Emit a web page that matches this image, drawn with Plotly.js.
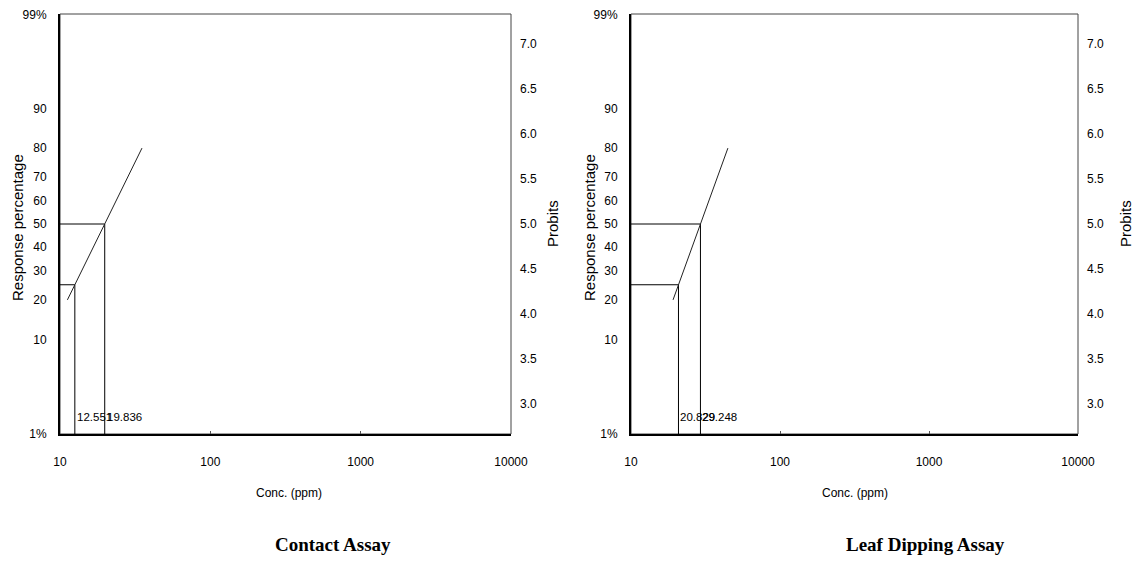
<!DOCTYPE html>
<html>
<head>
<meta charset="utf-8">
<script src="https://cdn.plot.ly/plotly-3.0.1.min.js"></script>
<style>html,body{margin:0;padding:0;background:#fff;}#chart{width:1134px;height:563px;}</style>
</head>
<body>
<div id="chart"></div>
<script>
// ---- data ----
// Percent tick labels on the probit scale (left axis) and their probit positions
var pctLabels = ["1%", "10", "20", "30", "40", "50", "60", "70", "80", "90", "99%"];
var pctProbits = [2.674, 3.718, 4.158, 4.476, 4.747, 5.0, 5.253, 5.524, 5.842, 6.282, 7.326];
// Probit tick labels (right axis)
var probitTicks = [3.0, 3.5, 4.0, 4.5, 5.0, 5.5, 6.0, 6.5, 7.0];
var probitTickText = ["3.0", "3.5", "4.0", "4.5", "5.0", "5.5", "6.0", "6.5", "7.0"];
// Concentration ticks
var concTicks = [10, 100, 1000, 10000];
var concTickText = ["10", "100", "1000", "10000"];

// Contact assay
var contactLineConc = [11.2, 35.1];
var contactLineProbit = [4.158, 5.842];
var contactLC = [12.551, 19.836];       // LC25, LC50
var contactLCLabels = ["12.551", "19.836"];
// Leaf dipping assay
var leafLineConc = [19.15, 44.7];
var leafLineProbit = [4.158, 5.842];
var leafLC = [20.829, 29.248];
var leafLCLabels = ["20.829", "29.248"];
// Probit levels of the LC lines (25%, 50%)
var lcProbits = [4.326, 5.0];

var captions = ["Contact Assay", "Leaf Dipping Assay"];

// ---- build ----
var yMin = 2.67, yMax = 7.33;
var tickFont = {family: "'Liberation Sans Narrow', 'Arial Narrow', Arial, sans-serif", size: 12, color: "#000"};
var lcFont = {family: "'Liberation Sans Narrow', 'Arial Narrow', Arial, sans-serif", size: 11.5, color: "#000"};
var titleFont = {family: "Arial, 'Liberation Sans', sans-serif", size: 15, color: "#000"};

function guideTraces(lc, xa, ya) {
  var tr = [];
  for (var i = 0; i < lc.length; i++) {
    tr.push({x: [10, lc[i]], y: [lcProbits[i], lcProbits[i]], xaxis: xa, yaxis: ya, mode: "lines",
             line: {color: "#000", width: 1}, hoverinfo: "skip", showlegend: false});
    tr.push({x: [lc[i], lc[i]], y: [lcProbits[i], yMin], xaxis: xa, yaxis: ya, mode: "lines",
             line: {color: "#000", width: 1}, hoverinfo: "skip", showlegend: false});
  }
  return tr;
}

var traces = [];
traces = traces.concat(guideTraces(contactLC, "x", "y"));
traces.push({x: contactLineConc, y: contactLineProbit, xaxis: "x", yaxis: "y2", mode: "lines",
             line: {color: "#222", width: 1}, showlegend: false, name: "Contact"});
traces = traces.concat(guideTraces(leafLC, "x2", "y3"));
traces.push({x: leafLineConc, y: leafLineProbit, xaxis: "x2", yaxis: "y4", mode: "lines",
             line: {color: "#222", width: 1}, showlegend: false, name: "Leaf dipping"});

function xAxis(domain, anchor) {
  return {type: "log", range: [1, 4], domain: domain, anchor: anchor,
    tickvals: concTicks, ticktext: concTickText, ticks: "inside", ticklen: 3, tickcolor: "#555",
    showgrid: false, zeroline: false, showline: true, linecolor: "#000", linewidth: 1.5,
    tickfont: tickFont, ticklabelstandoff: 16, fixedrange: true};
}
function yLeft(domain, anchor) {
  return {range: [yMin, yMax], domain: domain, anchor: anchor, tickvals: pctProbits, ticktext: pctLabels,
    ticks: "", showgrid: false, zeroline: false, showline: true, linecolor: "#000", linewidth: 2,
    tickfont: tickFont, ticklabelstandoff: 9, fixedrange: true};
}
function yRight(over, anchor) {
  return {range: [yMin, yMax], overlaying: over, side: "right", anchor: anchor,
    tickvals: probitTicks, ticktext: probitTickText, ticks: "", showgrid: false, zeroline: false,
    showline: false, tickfont: tickFont, ticklabelstandoff: 8, fixedrange: true};
}

var W = 1134, H = 563;
var dL = [60 / W, 511 / W], dR = [631 / W, 1078 / W];
var dY = [(H - 434) / H, (H - 14) / H];

var annotations = [];
function lcAnnots(lc, labels, xa) {
  for (var i = 0; i < lc.length; i++) {
    annotations.push({x: Math.log10(lc[i]), y: 0.04, xref: xa, yref: (xa === "x" ? "y domain" : "y3 domain"),
      text: labels[i], showarrow: false, xanchor: "left", yanchor: "middle", xshift: 0,
      font: lcFont, bgcolor: "rgba(0,0,0,0)"});
  }
}
lcAnnots(contactLC, contactLCLabels, "x");
lcAnnots(leafLC, leafLCLabels, "x2");

function titles(xCenter, yTitleX, probitX) {
  annotations.push({x: xCenter / W, y: (H - 493) / H, xref: "paper", yref: "paper", text: "Conc. (ppm)",
    showarrow: false, xanchor: "center", yanchor: "middle", font: tickFont});
  annotations.push({x: yTitleX / W, y: (H - 228) / H, xref: "paper", yref: "paper", text: "Response percentage",
    showarrow: false, textangle: -90, xanchor: "center", yanchor: "middle", font: titleFont});
  annotations.push({x: probitX / W, y: (H - 224) / H, xref: "paper", yref: "paper", text: "Probits",
    showarrow: false, textangle: -90, xanchor: "center", yanchor: "middle", font: titleFont});
}
titles(289, 17, 552);
titles(855, 589, 1125);

var capFont = {family: "'Liberation Serif', 'Times New Roman', serif", size: 19, color: "#000"};
annotations.push({x: 333 / W, y: (H - 544) / H, xref: "paper", yref: "paper", text: "<b>" + captions[0] + "</b>",
  showarrow: false, xanchor: "center", yanchor: "middle", font: capFont});
annotations.push({x: 925 / W, y: (H - 544) / H, xref: "paper", yref: "paper", text: "<b>" + captions[1] + "</b>",
  showarrow: false, xanchor: "center", yanchor: "middle", font: capFont});

var frameLine = {color: "#444", width: 1};
var shapes = [
  {type: "rect", xref: "x domain", yref: "y domain", x0: 0, x1: 1, y0: 0, y1: 1, line: frameLine, layer: "below"},
  {type: "rect", xref: "x2 domain", yref: "y3 domain", x0: 0, x1: 1, y0: 0, y1: 1, line: frameLine, layer: "below"}
];

var layout = {
  width: W, height: H, margin: {l: 0, r: 0, t: 0, b: 0},
  paper_bgcolor: "#fff", plot_bgcolor: "#fff", showlegend: false,
  xaxis: xAxis(dL, "y"), yaxis: yLeft(dY, "x"), yaxis2: yRight("y", "x"),
  xaxis2: xAxis(dR, "y3"), yaxis3: yLeft(dY, "x2"), yaxis4: yRight("y3", "x2"),
  annotations: annotations, shapes: shapes
};

Plotly.newPlot("chart", traces, layout, {displayModeBar: false, staticPlot: true});
</script>
</body>
</html>
